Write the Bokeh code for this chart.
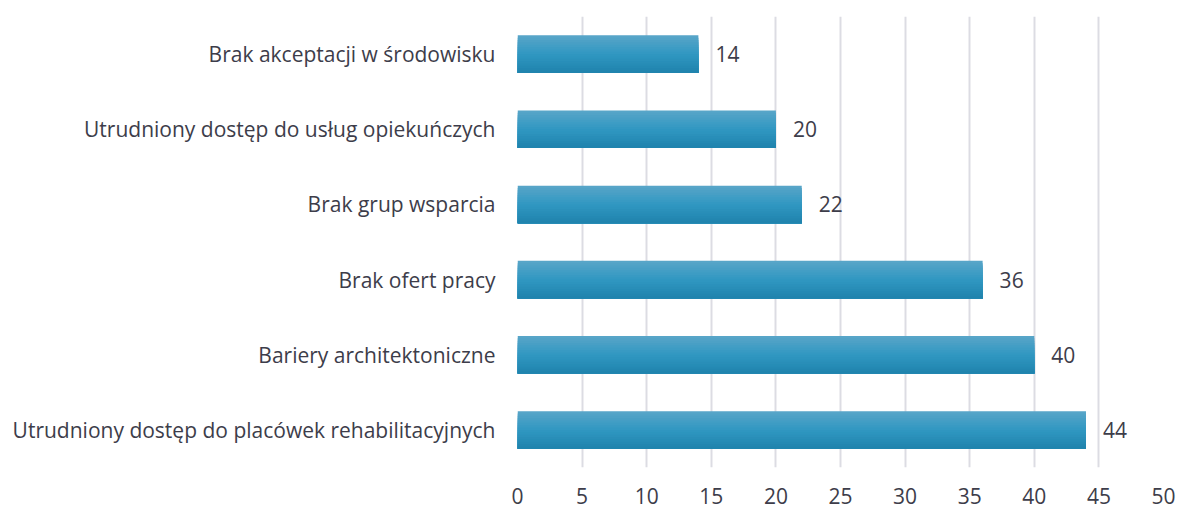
from bokeh.plotting import figure
from bokeh.models import ColumnDataSource, Range1d, FactorRange, FixedTicker
from bokeh.transform import dodge
from bokeh.core.properties import value
from bokeh.embed import file_html
from bokeh.resources import INLINE

categories = [
    "Brak akceptacji w środowisku",
    "Utrudniony dostęp do usług opiekuńczych",
    "Brak grup wsparcia",
    "Brak ofert pracy",
    "Bariery architektoniczne",
    "Utrudniony dostęp do placówek rehabilitacyjnych",
]
values = [14, 20, 22, 36, 40, 44]
x_ticks = [0, 5, 10, 15, 20, 25, 30, 35, 40, 45, 50]

FONT = "Open Sans"
FS = "21px"
TEXT_COLOR = "#3d3d4a"

source = ColumnDataSource(data=dict(cat=categories, val=values,
                                    lbl=[str(v) for v in values]))

p = figure(
    width=1180, height=509,
    y_range=FactorRange(*reversed(categories), range_padding=0),
    x_range=Range1d(0, 50),
    output_backend="svg", toolbar_location=None,
    min_border_left=517, min_border_right=17,
    min_border_top=16, min_border_bottom=42,
)
p.outline_line_color = None
p.background_fill_color = "white"

# gradient bars drawn as overlapping bands (top light -> bottom dark)
top_rgb = (0x5a, 0xa6, 0xc9)
mid_rgb = (0x31, 0x98, 0xc2)
bot_rgb = (0x1f, 0x83, 0xad)
n = 16
bar_h = 0.5
band = bar_h / n
for i in range(n):
    t = (i + 0.5) / n  # 0 at top, 1 at bottom
    if t < 0.5:
        f = t / 0.5
        c = tuple(int(top_rgb[k] + (mid_rgb[k] - top_rgb[k]) * f) for k in range(3))
    else:
        f = (t - 0.5) / 0.5
        c = tuple(int(mid_rgb[k] + (bot_rgb[k] - mid_rgb[k]) * f) for k in range(3))
    col = "#%02x%02x%02x" % c
    top = bar_h / 2 - band * i
    bottom = -bar_h / 2
    p.hbar(y=dodge("cat", (top + bottom) / 2, range=p.y_range), right="val", left=0,
           height=top - bottom, source=source, fill_color=col, line_color=None)

p.text(x="val", y="cat", text="lbl", source=source, x_offset=17,
       text_baseline="middle", text_align="left",
       text_font=value(FONT), text_font_size=FS, text_color=TEXT_COLOR)

p.xaxis.ticker = FixedTicker(ticks=x_ticks)
p.xaxis.axis_line_color = None
p.xaxis.major_tick_line_color = None
p.xaxis.minor_tick_line_color = None
p.xaxis.major_tick_out = 0
p.xaxis.major_label_standoff = 20
p.xaxis.major_label_text_font = FONT
p.xaxis.major_label_text_font_size = FS
p.xaxis.major_label_text_color = TEXT_COLOR

p.yaxis.axis_line_color = None
p.yaxis.major_tick_line_color = None
p.yaxis.major_tick_out = 0
p.yaxis.major_label_standoff = 22
p.yaxis.major_label_text_font = FONT
p.yaxis.major_label_text_font_size = FS
p.yaxis.major_label_text_color = TEXT_COLOR

p.xgrid.grid_line_color = "#dcdce3"
p.xgrid.grid_line_width = 2
p.ygrid.grid_line_color = None

open("out.html", "w").write(file_html(p, INLINE))
